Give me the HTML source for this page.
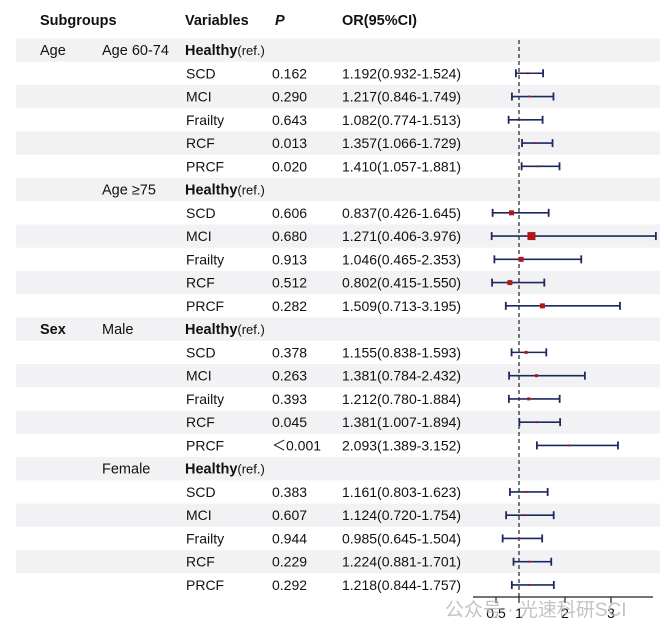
<!DOCTYPE html>
<html><head><meta charset="utf-8">
<style>
body{margin:0;background:#fff;}
svg{display:block;font-family:"Liberation Sans","Noto Sans CJK SC",sans-serif;}
</style></head>
<body>
<svg id="chart" width="664" height="636" viewBox="0 0 664 636">
<g id="bg"></g>
<g id="txt"></g>
<g id="plot"></g>
</svg>
<script>
const col1 = ["Age","","","","","","","","","","","","Sex","","","","","","","","","","","",""];
const col2 = ["Age 60-74","","","","","","Age ≥75","","","","","","Male","","","","","","Female","","","","","",""];
const variables = ["Healthy","SCD","MCI","Frailty","RCF","PRCF","Healthy","SCD","MCI","Frailty","RCF","PRCF","Healthy","SCD","MCI","Frailty","RCF","PRCF","Healthy","SCD","MCI","Frailty","RCF","PRCF"];
const pvals = ["","0.162","0.290","0.643","0.013","0.020","","0.606","0.680","0.913","0.512","0.282","","0.378","0.263","0.393","0.045","＜0.001","","0.383","0.607","0.944","0.229","0.292"];
const orVal = [null,1.192,1.217,1.082,1.357,1.410,null,0.837,1.271,1.046,0.802,1.509,null,1.155,1.381,1.212,1.381,2.093,null,1.161,1.124,0.985,1.224,1.218];
const lower = [null,0.932,0.846,0.774,1.066,1.057,null,0.426,0.406,0.465,0.415,0.713,null,0.838,0.784,0.780,1.007,1.389,null,0.803,0.720,0.645,0.881,0.844];
const upper = [null,1.524,1.749,1.513,1.729,1.881,null,1.645,3.976,2.353,1.550,3.195,null,1.593,2.432,1.884,1.894,3.152,null,1.623,1.754,1.504,1.701,1.757];
const boxSize = [0,2,2,2,2,2,0,5,8,5,5,5,0,3,3,3,2,2,0,2,2,2,2,2];
const ticks = [0.5,1,2,3];
const tickLabels = ["0.5","1","2","3"];

const NS="http://www.w3.org/2000/svg";
function mk(tag,attrs,parent){const e=document.createElementNS(NS,tag);for(const k in attrs)e.setAttribute(k,attrs[k]);parent.appendChild(e);return e;}
const xs = v => 473 + v*46;
const ys = i => 50 + i*23.26;
const bg=document.getElementById('bg'), txt=document.getElementById('txt'), plot=document.getElementById('plot');

for(let i=0;i<variables.length;i++){
  if(i%2===0){
    const r=mk('rect',{x:16,y:ys(i)-11.6,width:644,height:23.26,fill:'#f2f2f4'},bg);
    
    
  }
}
[["Subgroups",40],["Variables",185],["OR(95%CI)",342]].forEach(h=>{
  const t=mk('text',{x:h[1],y:25,'font-size':14.5,'font-weight':'bold',fill:'#111'},txt);t.textContent=h[0];
  
  
});
{const t=mk('text',{x:275,y:25,'font-size':14.5,'font-weight':'bold','font-style':'italic',fill:'#111'},txt);t.textContent="P";

}

for(let i=0;i<variables.length;i++){
  const y=ys(i)+5;
  if(col1[i]){const t=mk('text',{x:40,y:y,'font-size':14.5,fill:'#111','font-weight':col1[i]==='Sex'?'bold':'normal'},txt);t.textContent=col1[i];
    
    }
  if(col2[i]){const t=mk('text',{x:102,y:y,'font-size':14.5,fill:'#111'},txt);t.textContent=col2[i];
    
    }
  if(variables[i]==="Healthy"){
    const t=mk('text',{x:185,y:y,'font-size':14.5,fill:'#111'},txt);
    const a=mk('tspan',{'font-weight':'bold'},t);a.textContent="Healthy";
    const b=mk('tspan',{'font-size':13},t);b.textContent="(ref.)";
    
    
  } else {
    const t=mk('text',{x:186,y:y,'font-size':14,fill:'#111'},txt);t.textContent=variables[i];
    
    
    const p=mk('text',{x:272,y:y,'font-size':14,fill:'#111'},txt);p.textContent=pvals[i];
    
    
    const o=mk('text',{x:342,y:y,'font-size':14,fill:'#111'},txt);
    o.textContent=orVal[i].toFixed(3)+"("+lower[i].toFixed(3)+"-"+upper[i].toFixed(3)+")";
    
    
  }
}
{const l=mk('line',{x1:xs(1),x2:xs(1),y1:40,y2:597,stroke:'#222','stroke-width':1.2,'stroke-dasharray':'4,3'},plot);

}
for(let i=0;i<variables.length;i++){
  if(orVal[i]===null)continue;
  const y=ys(i), c='#1e2860';
  const g=mk('g',{},plot);
  
  
  mk('line',{x1:xs(lower[i]),x2:xs(upper[i]),y1:y,y2:y,stroke:c,'stroke-width':1.6},g);
  mk('line',{x1:xs(lower[i]),x2:xs(lower[i]),y1:y-4,y2:y+4,stroke:c,'stroke-width':1.8},g);
  mk('line',{x1:xs(upper[i]),x2:xs(upper[i]),y1:y-4,y2:y+4,stroke:c,'stroke-width':1.8},g);
  const s=boxSize[i];
  const b=mk('rect',{x:xs(orVal[i])-s/2,y:y-s/2,width:s,height:s,fill:'#b01818'},g);
  
  
}
{const a=mk('line',{x1:473,x2:653,y1:597,y2:597,stroke:'#222','stroke-width':1.2},plot);

}
ticks.forEach((v,k)=>{
  mk('line',{x1:xs(v),x2:xs(v),y1:597,y2:603,stroke:'#222','stroke-width':1.2},plot);
  const t=mk('text',{x:xs(v),y:618,'font-size':14,'text-anchor':'middle',fill:'#111'},plot);t.textContent=tickLabels[k];
  
  
});
{const w=mk('text',{x:445,y:616,'font-size':19,fill:'#b8b8b8','fill-opacity':0.85},plot);w.textContent="公众号 · 光速科研SCI";

}
</script>
</body></html>
